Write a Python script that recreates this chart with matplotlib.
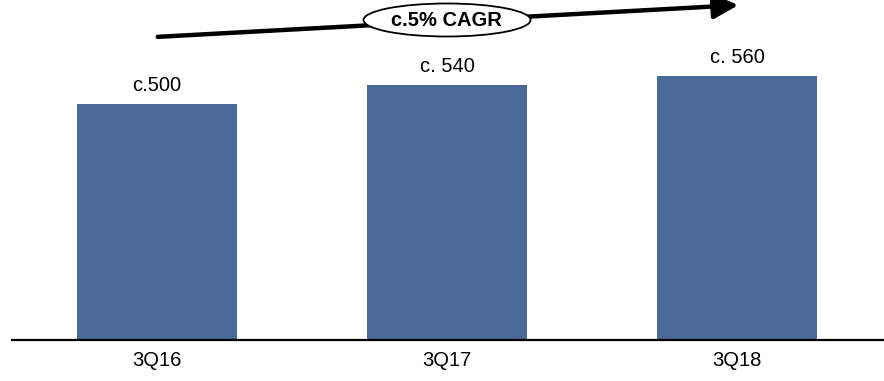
import matplotlib.pyplot as plt
from matplotlib.patches import Ellipse, FancyArrowPatch

quarters = ['3Q16', '3Q17', '3Q18']
outlets = [500, 540, 560]
labels = ['c.500', 'c. 540', 'c. 560']

plt.rcParams['font.family'] = ['Liberation Sans', 'DejaVu Sans']

fig = plt.figure(figsize=(8.84, 3.81), dpi=100)
ax = fig.add_axes([12/884, 41/381, 872/884, 340/381])

x = range(len(quarters))
bars = ax.bar(x, outlets, width=0.552, color='#4A6A9A')
for b, lab in zip(bars, labels):
    ax.text(b.get_x() + b.get_width()/2, b.get_height() + 18, lab,
            ha='center', va='bottom', fontsize=14.5)

ax.set_xlim(-0.5, 2.507)
ax.set_ylim(0, 720)
ax.set_xticks(list(x))
ax.set_xticklabels(quarters, fontsize=14.5)
ax.tick_params(axis='x', length=0, pad=8)
ax.set_yticks([])
for s in ['top', 'left', 'right']:
    ax.spines[s].set_visible(False)
ax.spines['bottom'].set_linewidth(1.6)

# CAGR arrow
W, H = 884, 381
arr = FancyArrowPatch((155/W, 1 - 37/H), (741/W, 1 - 5/H),
                      transform=fig.transFigure,
                      arrowstyle='-|>,head_length=10,head_width=5',
                      lw=3.2, color='black', mutation_scale=1.5)
fig.patches.append(arr)
ell = Ellipse((447/W, 1 - 20/H), 167/W, 33/H, transform=fig.transFigure,
              fc='white', ec='black', lw=1.3, zorder=5)
fig.patches.append(ell)
fig.text(446/W, 1 - 20/H, 'c.5% CAGR', ha='center', va='center',
         fontsize=14.5, fontweight='bold', zorder=6)

fig.savefig('out.png', dpi=100)
